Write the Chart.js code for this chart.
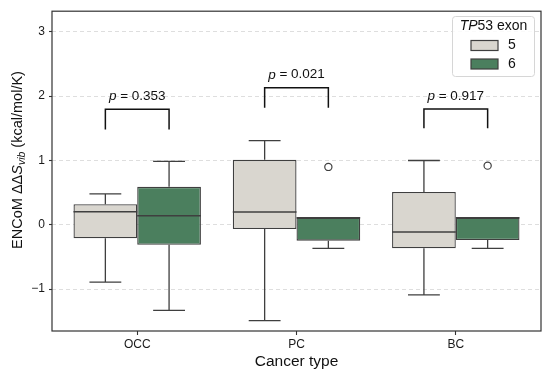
<!DOCTYPE html>
<html>
<head>
<meta charset="utf-8">
<script src="https://cdn.jsdelivr.net/npm/chart.js@4"></script>
<style>
  html,body{margin:0;padding:0;background:#fff;}
  #wrap{width:550px;height:374px;position:relative;}
</style>
</head>
<body>
<div id="wrap"><canvas id="chartBox"></canvas></div>
<script>
// categories + hue levels
const categories = ["OCC", "PC", "BC"];
const exonLabels = ["5", "6"];
// box stats per category: [whiskerLow, q1, median, q3, whiskerHigh]
const exon5Stats = [
  [-0.89, -0.21, 0.205, 0.32, 0.48],
  [-1.49, -0.066, 0.20, 1.01, 1.31],
  [-1.09, -0.365, -0.11, 0.51, 1.00]
];
const exon6Stats = [
  [-1.33, -0.31, 0.14, 0.59, 0.985],
  [-0.365, -0.246, 0.11, 0.11, 0.11],
  [-0.365, -0.235, 0.11, 0.11, 0.11]
];
// outliers (exon 6 only)
const exon6Outliers = [[], [0.90], [0.92]];
// significance annotations
const pValues = ["0.353", "0.021", "0.917"];
const bracketLow = [1.48, 1.82, 1.50];
const bracketHigh = [1.795, 2.13, 1.80];
const yTicks = [-1, 0, 1, 2, 3];

(function(){
  const FONT = "'Liberation Sans', Arial, sans-serif";
  const EDGE = "#3f3f3f";
  const fills = ["#d9d6cf", "#4b7f5e"];
  const statsAll = [exon5Stats, exon6Stats];

  function boxData(stats){
    return stats.map((s,i)=>({ x:i, y:[s[1], s[3]] }));
  }
  const outlierPts = [];
  exon6Outliers.forEach((arr,i)=>arr.forEach(v=>outlierPts.push({ x:i+0.2, y:v })));

  const boxPlugin = {
    id: "boxExtras",
    beforeDatasetsDraw(chart){
      // whiskers + caps behind boxes
      const ctx = chart.ctx, ys = chart.scales.y;
      ctx.save();
      ctx.strokeStyle = EDGE; ctx.lineWidth = 1.3;
      statsAll.forEach((stats,d)=>{
        const meta = chart.getDatasetMeta(d);
        stats.forEach((s,i)=>{
          const el = meta.data[i]; if(!el) return;
          const cx = el.x, hw = el.width/4;
          [[s[0], s[1]], [s[4], s[3]]].forEach(([end, edge])=>{
            if(end === edge) return;
            const pe = ys.getPixelForValue(end), pb = ys.getPixelForValue(edge);
            ctx.beginPath();
            ctx.moveTo(cx, pb); ctx.lineTo(cx, pe);
            ctx.moveTo(cx-hw, pe); ctx.lineTo(cx+hw, pe);
            ctx.stroke();
          });
        });
      });
      ctx.restore();
    },
    afterDatasetsDraw(chart){
      const ctx = chart.ctx, ys = chart.scales.y;
      ctx.save();
      // medians
      ctx.strokeStyle = EDGE; ctx.lineWidth = 1.5;
      statsAll.forEach((stats,d)=>{
        const meta = chart.getDatasetMeta(d);
        stats.forEach((s,i)=>{
          const el = meta.data[i]; if(!el) return;
          const py = ys.getPixelForValue(s[2]);
          ctx.beginPath();
          ctx.moveTo(el.x - el.width/2, py); ctx.lineTo(el.x + el.width/2, py);
          ctx.stroke();
        });
      });
      // brackets + p values
      ctx.strokeStyle = "#111"; ctx.lineWidth = 1.5;
      ctx.fillStyle = "#111";
      const m5 = chart.getDatasetMeta(0), m6 = chart.getDatasetMeta(1);
      categories.forEach((c,i)=>{
        const x1 = m5.data[i].x, x2 = m6.data[i].x;
        const yl = ys.getPixelForValue(bracketLow[i]), yh = ys.getPixelForValue(bracketHigh[i]);
        ctx.beginPath();
        ctx.moveTo(x1, yl); ctx.lineTo(x1, yh); ctx.lineTo(x2, yh); ctx.lineTo(x2, yl);
        ctx.stroke();
        const cx = (x1+x2)/2, ty = yh - 13;
        ctx.textBaseline = "middle";
        ctx.font = "italic 13.5px " + FONT;
        const wp = ctx.measureText("p").width;
        ctx.font = "13.5px " + FONT;
        const rest = " = " + pValues[i];
        const wr = ctx.measureText(rest).width;
        let x0 = cx - (wp+wr)/2;
        ctx.textAlign = "left";
        ctx.font = "italic 13.5px " + FONT;
        ctx.fillText("p", x0, ty);
        ctx.font = "13.5px " + FONT;
        ctx.fillText(rest, x0+wp, ty);
      });
      ctx.restore();
    },
    afterDraw(chart){
      const ctx = chart.ctx, ca = chart.chartArea;
      ctx.save();
      // frame
      ctx.strokeStyle = "#333"; ctx.lineWidth = 1.2;
      ctx.strokeRect(ca.left, ca.top, ca.right-ca.left, ca.bottom-ca.top);

      // x title
      ctx.fillStyle = "#111";
      ctx.textAlign = "center"; ctx.textBaseline = "middle";
      ctx.font = "15.5px " + FONT;
      ctx.fillText("Cancer type", (ca.left+ca.right)/2, 362);

      // y title with subscript
      const parts = [
        { t:"ENCoM \u0394\u0394", f:"14.5px " + FONT, dy:0 },
        { t:"S", f:"italic 14.5px " + FONT, dy:0 },
        { t:"vib", f:"italic 10.5px " + FONT, dy:4 },
        { t:" (kcal/mol/K)", f:"14.5px " + FONT, dy:0 }
      ];
      let total = 0;
      parts.forEach(p=>{ ctx.font = p.f; p.w = ctx.measureText(p.t).width; total += p.w; });
      ctx.translate(18, 160);
      ctx.rotate(-Math.PI/2);
      ctx.textAlign = "left";
      let x = -total/2;
      parts.forEach(p=>{ ctx.font = p.f; ctx.fillText(p.t, x, p.dy); x += p.w; });
      ctx.restore();

      // legend
      ctx.save();
      const lx = 452, ly = 16, lw = 82, lh = 60;
      ctx.fillStyle = "rgba(255,255,255,0.85)";
      ctx.strokeStyle = "#d6d6d6"; ctx.lineWidth = 1;
      ctx.beginPath();
      ctx.roundRect(lx+0.5, ly+0.5, lw, lh, 3);
      ctx.fill(); ctx.stroke();
      ctx.fillStyle = "#111"; ctx.textBaseline = "middle"; ctx.textAlign = "left";
      ctx.font = "italic 14px " + FONT;
      const wTP = ctx.measureText("TP").width;
      ctx.font = "14px " + FONT;
      const wRest = ctx.measureText("53 exon").width;
      let tx = lx + lw/2 - (wTP+wRest)/2 + 0.5;
      ctx.font = "italic 14px " + FONT; ctx.fillText("TP", tx, 26);
      ctx.font = "14px " + FONT; ctx.fillText("53 exon", tx+wTP, 26);
      exonLabels.forEach((lab,k)=>{
        const py = 40.5 + k*18.5;
        ctx.fillStyle = fills[k];
        ctx.fillRect(471, py, 27, 10);
        ctx.strokeStyle = EDGE; ctx.lineWidth = 1.2;
        ctx.strokeRect(471, py, 27, 10);
        ctx.fillStyle = "#111";
        ctx.font = "14px " + FONT;
        ctx.fillText(lab, 508, py + 5);
      });
      ctx.restore();
    }
  };

  function render(){
    const c = document.getElementById("chartBox");
    if(!window.Chart){ console.warn("Chart.js missing"); return; }

    new Chart(c.getContext("2d"), {
      type: "bar",
      data: {
        datasets: [
          { label: exonLabels[0], data: boxData(exon5Stats), backgroundColor: fills[0],
            borderColor: EDGE, borderWidth: 1.3, borderSkipped: false,
            categoryPercentage: 0.8, barPercentage: 1.0, order: 2 },
          { label: exonLabels[1], data: boxData(exon6Stats), backgroundColor: fills[1],
            borderColor: EDGE, borderWidth: 1.3, borderSkipped: false,
            categoryPercentage: 0.8, barPercentage: 1.0, order: 2 },
          { type: "scatter", label: "outliers", data: outlierPts, pointRadius: 3.6,
            pointBackgroundColor: "#fff", pointBorderColor: EDGE, pointBorderWidth: 1.2, order: 1 }
        ]
      },
      options: {
        responsive: true, maintainAspectRatio: false, animation: false,
        layout: { padding: { top: 8, right: 9, left: 0, bottom: 0 } },
        plugins: { legend: { display: false }, tooltip: { enabled: false } },
        scales: {
          x: {
            type: "linear", min: -0.535, max: 2.535, offset: false,
            afterBuildTicks: s => { s.ticks = categories.map((c,i)=>({ value: i })); },
            afterFit: s => { s.height = 43; },
            ticks: { callback: v => categories[v] || "", color: "#1a1a1a", padding: 2,
                     font: { family: FONT, size: 12 }, maxRotation: 0 },
            grid: { drawOnChartArea: false, offset: false, tickLength: 4, tickColor: "#333", tickWidth: 1.1 },
            border: { display: false }
          },
          y: {
            min: -1.65, max: 3.32,
            afterBuildTicks: s => { s.ticks = yTicks.map(v=>({ value: v })); },
            afterFit: s => { s.width = 52; },
            ticks: { callback: v => v < 0 ? "\u2212" + Math.abs(v) : String(v), color: "#1a1a1a",
                     padding: 4, font: { family: FONT, size: 12 } },
            grid: { color: "#dedede", lineWidth: 1, tickLength: 3, tickColor: "#333", tickWidth: 1.1 },
            border: { display: false, dash: [4, 3] }
          }
        }
      },
      plugins: [boxPlugin]
    });
  }

  if(document.readyState==="loading") document.addEventListener("DOMContentLoaded", render);
  else render();
})();
</script>
</body>
</html>
